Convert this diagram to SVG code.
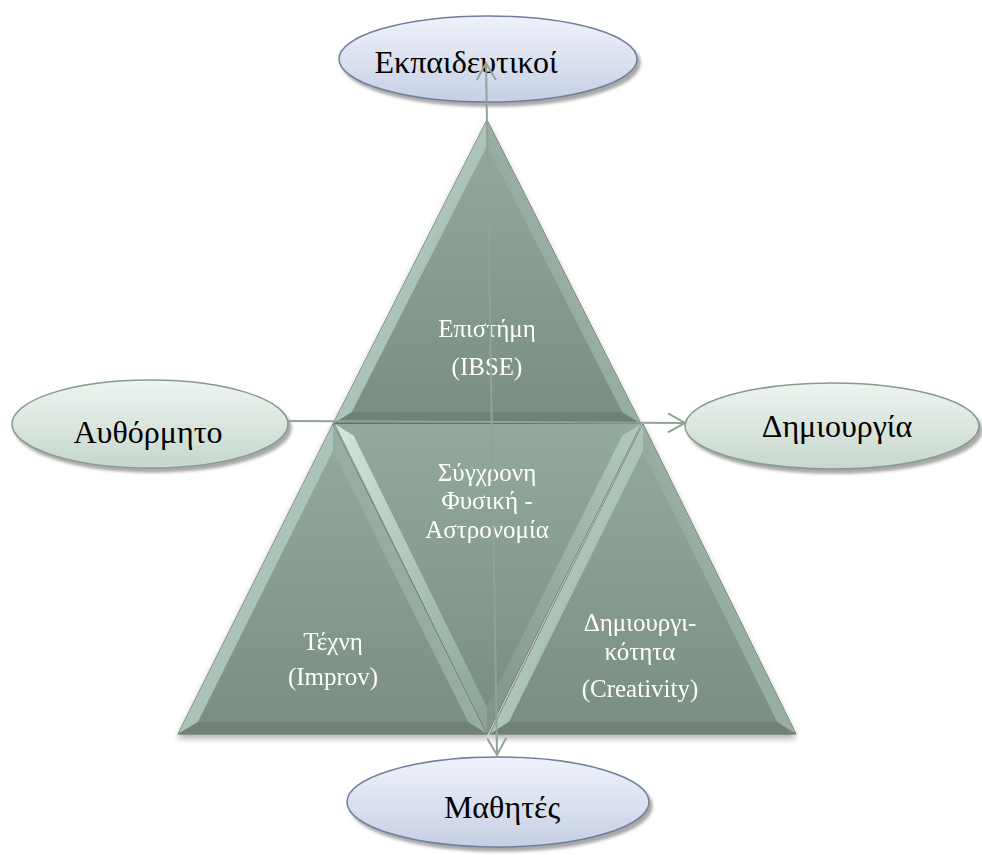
<svg xmlns="http://www.w3.org/2000/svg" width="982" height="855" viewBox="0 0 982 855">
  <style>
    .face { fill: url(#faceGrad); stroke: #56665c; stroke-width: 1; }
    .bevL { fill: url(#bevLGrad); }
    .bevR { fill: url(#bevRGrad); }
    .bevB { fill: #6f8177; }
    .bevT { fill: #93a99e; }
    .inner { fill: url(#innerGrad); }
    .lbl-w { font-family: "Liberation Serif", "Times New Roman", serif; font-size: 25px; fill: #ffffff; text-anchor: middle; }
    .lbl-b { font-family: "Liberation Serif", "Times New Roman", serif; font-size: 32px; fill: #000000; text-anchor: middle; }
    .ell-blue { fill: url(#blueGrad); stroke: #6f7f9d; stroke-width: 1.5; filter: url(#ellShadow); }
    .ell-green { fill: url(#greenGrad); stroke: #869a8e; stroke-width: 1.5; filter: url(#ellShadow); }
    .conn { fill: none; stroke: #8fa396; stroke-width: 2; }
  </style>
  <defs>
    <linearGradient id="faceGrad" x1="0" y1="0" x2="0" y2="1">
      <stop offset="0" stop-color="#a3b9ae"/>
      <stop offset="1" stop-color="#7a8d82"/>
    </linearGradient>
    <linearGradient id="innerGrad" x1="0" y1="0" x2="0" y2="1">
      <stop offset="0" stop-color="#93a89d"/>
      <stop offset="1" stop-color="#7b8e83"/>
    </linearGradient>
    <linearGradient id="bevLGrad" x1="0" y1="0" x2="1" y2="1">
      <stop offset="0" stop-color="#d2e8de"/>
      <stop offset="1" stop-color="#8aa196"/>
    </linearGradient>
    <linearGradient id="bevRGrad" x1="1" y1="0" x2="0" y2="1">
      <stop offset="0" stop-color="#b3cabf"/>
      <stop offset="1" stop-color="#7f9388"/>
    </linearGradient>
    <linearGradient id="blueGrad" x1="0" y1="0" x2="0" y2="1">
      <stop offset="0" stop-color="#eff2f9"/>
      <stop offset="1" stop-color="#c6d0e4"/>
    </linearGradient>
    <linearGradient id="greenGrad" x1="0" y1="0" x2="0" y2="1">
      <stop offset="0" stop-color="#eef4f0"/>
      <stop offset="1" stop-color="#c6d7cd"/>
    </linearGradient>
    <filter id="ellShadow" x="-10%" y="-20%" width="125%" height="150%">
      <feDropShadow dx="3" dy="4" stdDeviation="1.5" flood-color="#6e6e6e" flood-opacity="0.6"/>
    </filter>
    <filter id="triShadow" x="-10%" y="-10%" width="120%" height="125%">
      <feDropShadow dx="0" dy="4" stdDeviation="3" flood-color="#555555" flood-opacity="0.45"/>
    </filter>
    <marker id="arrowOpen" markerUnits="userSpaceOnUse" markerWidth="22" markerHeight="24" viewBox="-19 -12 22 24" refX="0" refY="0" orient="auto-start-reverse">
      <path d="M-17,-9.5 L0,0 L-17,9.5" fill="none" stroke="#8fa396" stroke-width="2"/>
    </marker>
  </defs>

  <!-- outer ellipses -->
  <g id="node-teachers">
    <ellipse class="ell-blue" cx="488" cy="59" rx="149" ry="43"/>
    <text class="lbl-b" x="466" y="73">Εκπαιδευτικοί</text>
  </g>
  <g id="node-spontaneous">
    <ellipse class="ell-green" cx="150" cy="424" rx="138" ry="44"/>
    <text class="lbl-b" x="148" y="443">Αυθόρμητο</text>
  </g>
  <g id="node-creation">
    <ellipse class="ell-green" cx="832" cy="426" rx="147" ry="43"/>
    <text class="lbl-b" x="837" y="437">Δημιουργία</text>
  </g>
  <g id="node-students">
    <ellipse class="ell-blue" cx="498" cy="802" rx="151" ry="45"/>
    <text class="lbl-b" x="502" y="818">Μαθητές</text>
  </g>

  <!-- central pyramid of four bevelled triangles -->
  <g id="pyramid" filter="url(#triShadow)">
    <g id="node-science">
      <polygon class="face" points="487,120 333,424 641,424"/>
      <polygon class="bevL" points="487,120 333,424 352,412 487,146"/>
      <polygon class="bevR" points="487,120 641,424 622,412 487,146"/>
      <polygon class="bevB" points="333,424 641,424 622,412 352,412"/>
      <polygon class="inner" points="487,146 352,412 622,412"/>
      <text class="lbl-w" x="487" y="337">Επιστήμη</text>
      <text class="lbl-w" x="487" y="375">(IBSE)</text>
    </g>
    <g id="node-art">
      <polygon class="face" points="333,424 178,734 487,734"/>
      <polygon class="bevL" points="333,424 178,734 198,722 333,451"/>
      <polygon class="bevR" points="333,424 487,734 468,722 333,451"/>
      <polygon class="bevB" points="178,734 487,734 468,722 198,722"/>
      <polygon class="inner" points="333,451 198,722 468,722"/>
      <text class="lbl-w" x="333" y="650">Τέχνη</text>
      <text class="lbl-w" x="333" y="685">(Improv)</text>
    </g>
    <g id="node-physics">
      <polygon class="face" points="335,424 641,424 487,734"/>
      <polygon class="bevT" points="335,424 641,424 622,436 354,436"/>
      <polygon class="bevL" points="335,424 487,734 487,707 354,436"/>
      <polygon class="bevR" points="641,424 487,734 487,707 622,436"/>
      <polygon class="inner" points="354,436 622,436 487,707"/>
      <text class="lbl-w" x="487" y="481">Σύγχρονη</text>
      <text class="lbl-w" x="487" y="509">Φυσική -</text>
      <text class="lbl-w" x="487" y="538">Αστρονομία</text>
    </g>
    <g id="node-creativity">
      <polygon class="face" points="643,424 490,734 796,734"/>
      <polygon class="bevL" points="643,424 490,734 509,722 643,451"/>
      <polygon class="bevR" points="643,424 796,734 777,722 643,451"/>
      <polygon class="bevB" points="490,734 796,734 777,722 509,722"/>
      <polygon class="inner" points="643,451 509,722 777,722"/>
      <text class="lbl-w" x="640" y="631">Δημιουργι-</text>
      <text class="lbl-w" x="640" y="660">κότητα</text>
      <text class="lbl-w" x="640" y="697">(Creativity)</text>
    </g>
  </g>

  <!-- connectors -->
  <g id="connectors">
    <line class="conn" x1="287" y1="421" x2="685" y2="423" marker-end="url(#arrowOpen)"/>
    <line class="conn" x1="497" y1="755" x2="486" y2="63" marker-start="url(#arrowOpen)" marker-end="url(#arrowOpen)"/>
  </g>
</svg>
